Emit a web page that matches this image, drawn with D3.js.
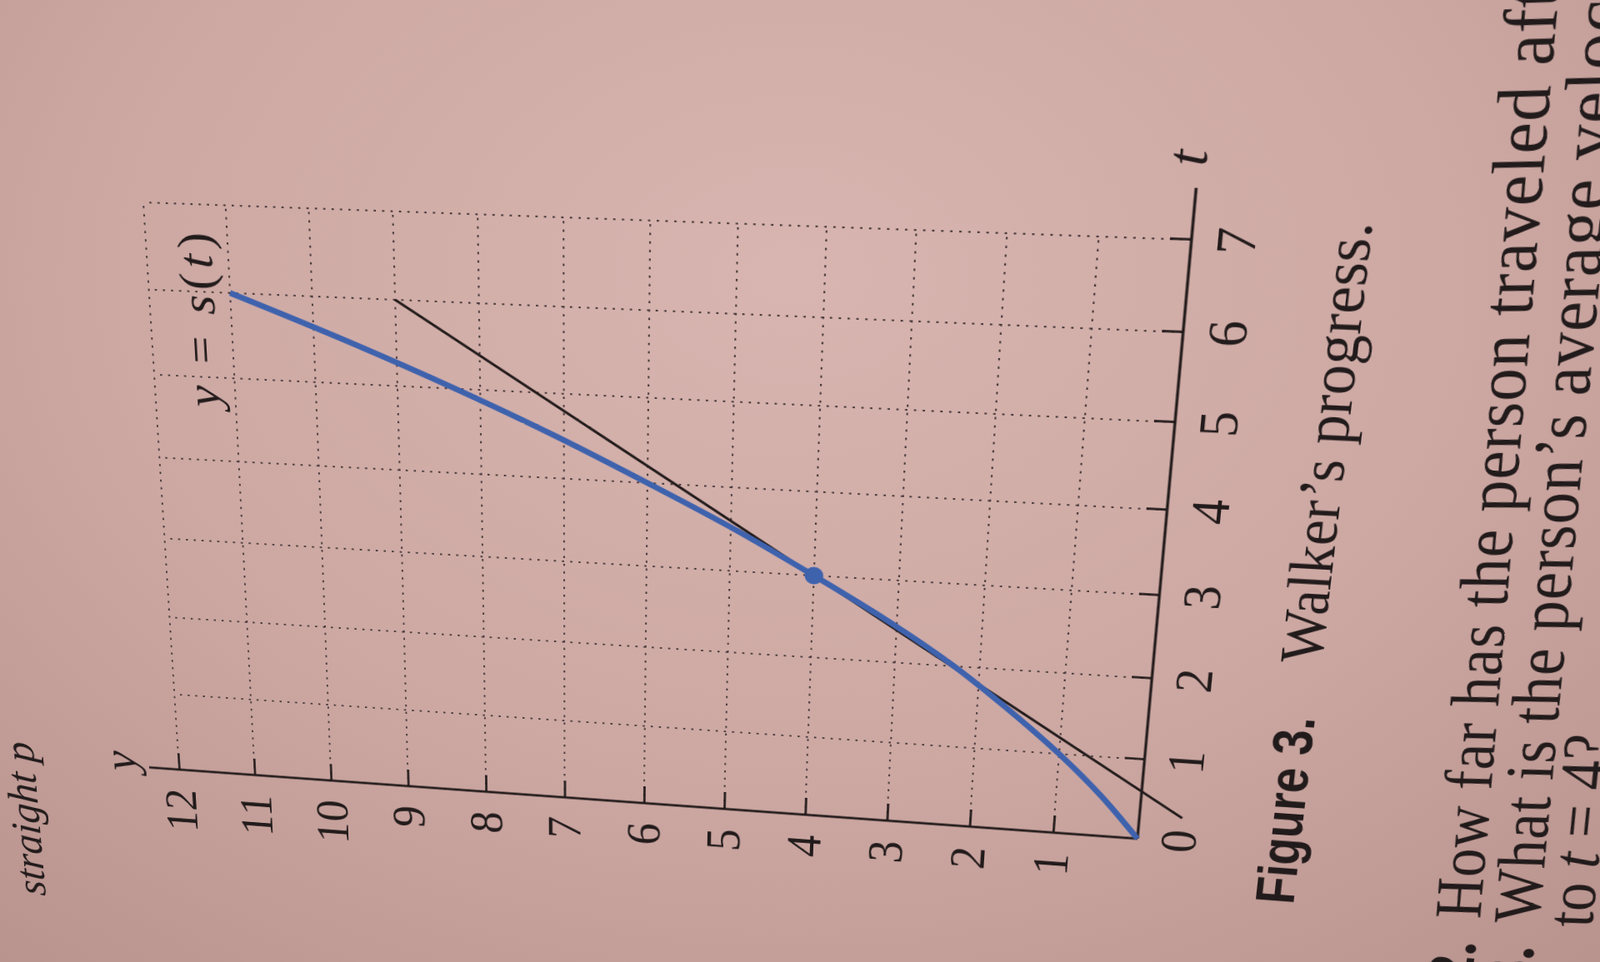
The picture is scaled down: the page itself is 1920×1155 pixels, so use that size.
<!DOCTYPE html>
<html>
<head>
<meta charset="utf-8">
<script src="https://cdn.jsdelivr.net/npm/d3@7"></script>
<style>
html, body { margin: 0; padding: 0; width: 1920px; height: 1155px; overflow: hidden; }
body {
    background: radial-gradient(ellipse 1500px 1100px at 950px 330px, #d8b5b0 0%, #cda8a3 55%, #b8928d 100%);
}
#page { position: absolute; left: 0; top: 0; transform-origin: 0 0; }
</style>
</head>
<body>
<div id="page"></div>
<script>
// ticks on both axes
var tTicks = [0, 1, 2, 3, 4, 5, 6, 7];
var sTicks = [1, 2, 3, 4, 5, 6, 7, 8, 9, 10, 11, 12];

// walker's position s(t)
var curveT = [0, 0.5, 1, 1.5, 2, 2.5, 3, 3.5, 4, 4.5, 5, 5.5, 6];
var curveS = [0, 0.46, 1.0, 1.62, 2.3, 3.1, 4.0, 4.95, 6.0, 7.1, 8.3, 9.6, 11.0];

// the black straight line, its two ends
var lineT = [0.3, 6];
var lineS = [-0.5, 9];

// marked point
var pointT = [3];
var pointS = [4];

// page text
var captionFig = "Figure 3.";
var captionText = "Walker\u2019s progress.";
var questionNums = ["2.", "3."];
var questionLines = ["How far has the person traveled after", "What is the person\u2019s average velocity"];
var aboveText = "straight p";

var ink = "#221b1b",
    blue = "#3f62ad",
    serif = "'Liberation Serif', 'DejaVu Serif', serif";

// flat page: t to the right, s upwards
var x = d3.scaleLinear().domain([0, 7]).range([300, 1000]);
var y = d3.scaleLinear().domain([0, 12]).range([1540, 400]);

var svg = d3.select("#page")
    .style("width", "1600px")
    .style("height", "2150px")
    .append("svg")
    .attr("width", 1600)
    .attr("height", 2150);

// where the four grid corners land in the photo (page is turned and tilted)
var photoCorners = [[1365, 1007], [1430, 288], [215, 924], [172, 243]];
var planeCorners = [[x(0), y(0)], [x(7), y(0)], [x(0), y(12)], [x(7), y(12)]];

function homography(src, dst) {
    var A = [];
    for (var i = 0; i < 4; i++) {
        var u = src[i][0], v = src[i][1], X = dst[i][0], Y = dst[i][1];
        A.push([u, v, 1, 0, 0, 0, -u * X, -v * X, X]);
        A.push([0, 0, 0, u, v, 1, -u * Y, -v * Y, Y]);
    }
    // gauss elimination
    for (var c = 0; c < 8; c++) {
        var p = c;
        for (var r = c + 1; r < 8; r++) if (Math.abs(A[r][c]) > Math.abs(A[p][c])) p = r;
        var tmp = A[c]; A[c] = A[p]; A[p] = tmp;
        for (var r = 0; r < 8; r++) {
            if (r === c) continue;
            var f = A[r][c] / A[c][c];
            for (var k = c; k < 9; k++) A[r][k] -= f * A[c][k];
        }
    }
    var h = [];
    for (var i = 0; i < 8; i++) h.push(A[i][8] / A[i][i]);
    return h;
}

var h = homography(planeCorners, photoCorners);
d3.select("#page").style("transform",
    "matrix3d(" + [h[0], h[3], 0, h[6], h[1], h[4], 0, h[7], 0, 0, 1, 0, h[2], h[5], 0, 1].join(",") + ")");

// dotted grid
var grid = svg.append("g")
    .attr("stroke", "#4a3b3b")
    .attr("stroke-width", 2)
    .attr("stroke-dasharray", "2.5,7");

grid.selectAll("line.gt")
    .data(tTicks.filter(function(d) { return d > 0; }))
    .enter()
    .append("line")
    .attr("x1", function(d) { return x(d); })
    .attr("x2", function(d) { return x(d); })
    .attr("y1", y(0))
    .attr("y2", y(12));

grid.selectAll("line.gs")
    .data(sTicks)
    .enter()
    .append("line")
    .attr("x1", x(0))
    .attr("x2", x(7))
    .attr("y1", function(d) { return y(d); })
    .attr("y2", function(d) { return y(d); });

// axes
var tAxis = d3.axisBottom(x)
    .tickValues(tTicks)
    .tickSizeInner(-22)
    .tickSizeOuter(0)
    .tickPadding(24)
    .tickFormat(d3.format("d"));

var gt = svg.append("g")
    .attr("transform", "translate(0," + y(0) + ")")
    .call(tAxis);
gt.select(".domain").remove();
gt.selectAll(".tick").filter(function(d) { return d === 0; }).select("line").remove();

var sAxis = d3.axisLeft(y)
    .tickValues(sTicks)
    .tickSizeInner(-22)
    .tickSizeOuter(0)
    .tickPadding(26)
    .tickFormat(d3.format("d"));

var gs = svg.append("g")
    .attr("transform", "translate(" + x(0) + ",0)")
    .call(sAxis);
gs.select(".domain").remove();

svg.selectAll(".tick line").attr("stroke", ink).attr("stroke-width", 2.6);
svg.selectAll(".tick text")
    .attr("font-family", serif)
    .attr("font-size", 58)
    .attr("fill", ink);

svg.append("line")
    .attr("x1", x(0)).attr("y1", y(0))
    .attr("x2", x(7.55)).attr("y2", y(0))
    .attr("stroke", ink).attr("stroke-width", 3);
svg.append("line")
    .attr("x1", x(0)).attr("y1", y(0))
    .attr("x2", x(0)).attr("y2", y(12.4))
    .attr("stroke", ink).attr("stroke-width", 3);

svg.append("text")
    .text("t")
    .attr("x", x(7.86)).attr("y", y(0.1) + 18)
    .attr("text-anchor", "middle")
    .attr("font-family", serif).attr("font-style", "italic")
    .attr("font-size", 60).attr("fill", ink);
svg.append("text")
    .text("y")
    .attr("x", x(0.06)).attr("y", y(12.7) + 12)
    .attr("text-anchor", "middle")
    .attr("font-family", serif).attr("font-style", "italic")
    .attr("font-size", 60).attr("fill", ink);

// straight line and curve
svg.append("line")
    .attr("x1", x(lineT[0])).attr("y1", y(lineS[0]))
    .attr("x2", x(lineT[1])).attr("y2", y(lineS[1]))
    .attr("stroke", ink).attr("stroke-width", 3);

var line = d3.line()
    .x(function(d) { return x(d[0]); })
    .y(function(d) { return y(d[1]); })
    .curve(d3.curveCatmullRom.alpha(0.5));

svg.append("path")
    .datum(d3.zip(curveT, curveS))
    .attr("d", line)
    .attr("fill", "none")
    .attr("stroke", blue)
    .attr("stroke-width", 6.8);

svg.selectAll("circle")
    .data(d3.zip(pointT, pointS))
    .enter()
    .append("circle")
    .attr("cx", function(d) { return x(d[0]); })
    .attr("cy", function(d) { return y(d[1]); })
    .attr("r", 10.5)
    .attr("fill", blue);

// curve label y = s(t)
var lab = svg.append("text")
    .attr("x", x(4.64)).attr("y", y(11.2))
    .attr("font-family", serif).attr("font-size", 58)
    .attr("fill", ink)
    .attr("textLength", x(6.68) - x(4.64))
    .attr("lengthAdjust", "spacing");
lab.append("tspan").attr("font-style", "italic").text("y");
lab.append("tspan").text(" = ");
lab.append("tspan").attr("font-style", "italic").text("s");
lab.append("tspan").text("(");
lab.append("tspan").attr("font-style", "italic").text("t");
lab.append("tspan").text(")");

// page text around the figure
var page = svg.append("g").attr("fill", ink);

page.append("text")
    .text(aboveText)
    .attr("x", x(-1.9)).attr("y", y(13.95))
    .attr("font-family", serif).attr("font-style", "italic")
    .attr("font-size", 55);

page.append("text")
    .text(captionFig)
    .attr("x", x(-0.7)).attr("y", y(-1.9))
    .attr("font-family", "'Liberation Sans', Arial, sans-serif")
    .attr("font-weight", "bold")
    .attr("font-size", 62)
    .attr("textLength", x(1.65) - x(-0.7))
    .attr("lengthAdjust", "spacingAndGlyphs");

page.append("text")
    .text(captionText)
    .attr("x", x(2.3)).attr("y", y(-1.9))
    .attr("font-family", serif)
    .attr("font-size", 66)
    .attr("textLength", x(7.25) - x(2.3))
    .attr("lengthAdjust", "spacingAndGlyphs");

// the page bends near the edge, so the question lines lean a little less
var qs = [-4.05, -4.72, -5.32];
var qLean = -3;

page.selectAll("text.qn")
    .data(questionNums)
    .enter()
    .append("text")
    .attr("class", "qn")
    .text(function(d) { return d; })
    .attr("x", x(-1.0))
    .attr("y", function(d, i) { return y(qs[i]); })
    .attr("text-anchor", "end")
    .attr("font-family", serif).attr("font-weight", "bold")
    .attr("font-size", 72);

page.selectAll("text.ql")
    .data(questionLines)
    .enter()
    .append("text")
    .attr("class", "ql")
    .text(function(d) { return d; })
    .attr("x", x(-0.7))
    .attr("y", function(d, i) { return y(qs[i]); })
    .attr("transform", function(d, i) { return "rotate(" + qLean + "," + x(-0.7) + "," + y(qs[i]) + ")"; })
    .attr("font-family", serif)
    .attr("font-size", 72)
    .attr("letter-spacing", 0.8);

var last = page.append("text")
    .attr("x", x(-0.7)).attr("y", y(qs[2]))
    .attr("transform", "rotate(" + qLean + "," + x(-0.7) + "," + y(qs[2]) + ")")
    .attr("font-family", serif)
    .attr("font-size", 72);
last.append("tspan").text("to ");
last.append("tspan").attr("font-style", "italic").text("t");
last.append("tspan").text(" = 4?");
</script>
</body>
</html>
